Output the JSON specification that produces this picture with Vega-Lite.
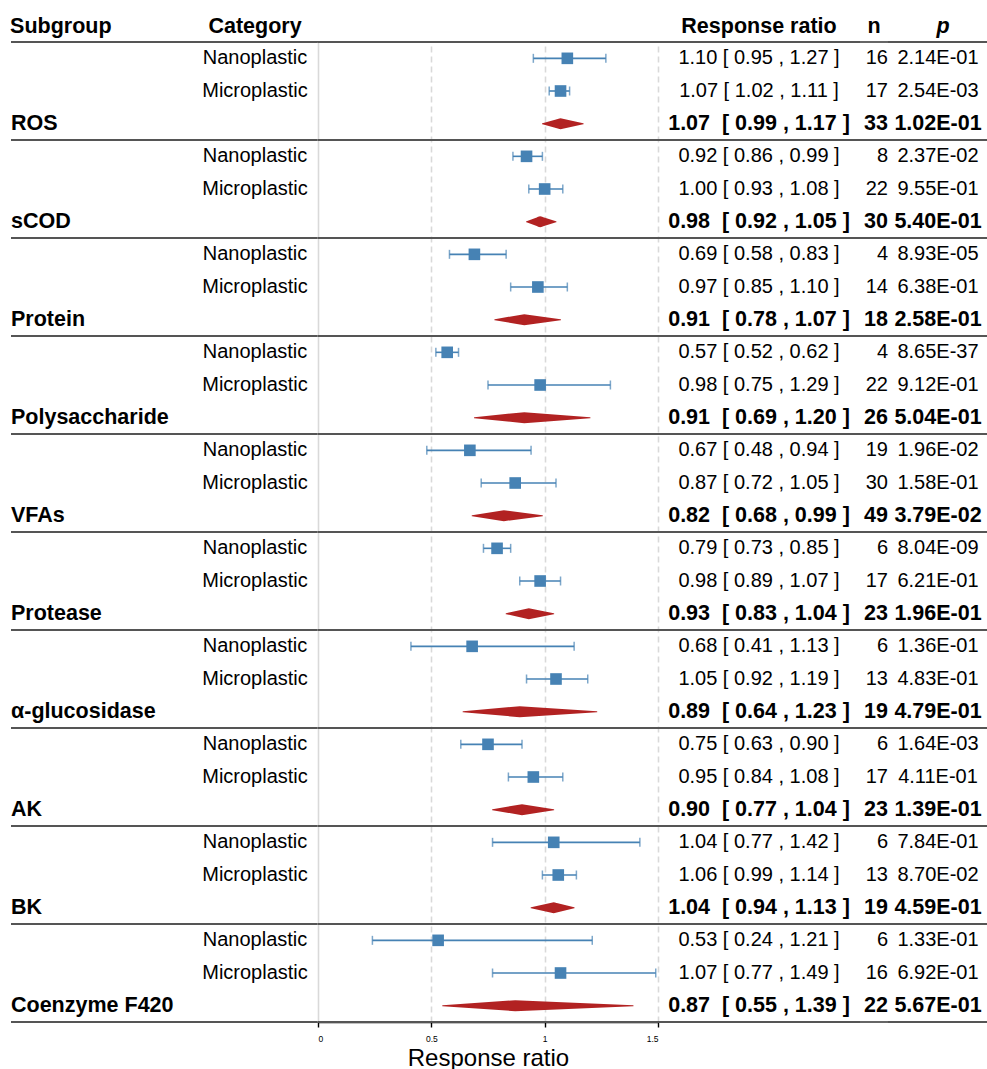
{
  "$schema": "https://vega.github.io/schema/vega-lite/v6.json",
  "padding": {"left": 10, "top": 15, "right": 0, "bottom": 0},
  "spacing": 0,
  "bounds": "flush",
  "resolve": {"scale": {"y": "shared"}},
  "config": {
    "font": "Liberation Sans",
    "view": {"stroke": null},
    "text": {"color": "#000000", "fontSize": 20},
    "title": {"fontSize": 21.5, "fontWeight": "bold", "color": "#000000", "offset": 4, "anchor": "middle"}
  },
  "data": {
    "values": [
      {"group": "ROS", "kind": "study", "category": "Nanoplastic", "est": 1.10, "lo": 0.95, "hi": 1.27, "n": 16, "p": "2.14E-01"},
      {"group": "ROS", "kind": "study", "category": "Microplastic", "est": 1.07, "lo": 1.02, "hi": 1.11, "n": 17, "p": "2.54E-03"},
      {"group": "ROS", "kind": "pooled", "est": 1.07, "lo": 0.99, "hi": 1.17, "n": 33, "p": "1.02E-01"},
      {"group": "sCOD", "kind": "study", "category": "Nanoplastic", "est": 0.92, "lo": 0.86, "hi": 0.99, "n": 8, "p": "2.37E-02"},
      {"group": "sCOD", "kind": "study", "category": "Microplastic", "est": 1.00, "lo": 0.93, "hi": 1.08, "n": 22, "p": "9.55E-01"},
      {"group": "sCOD", "kind": "pooled", "est": 0.98, "lo": 0.92, "hi": 1.05, "n": 30, "p": "5.40E-01"},
      {"group": "Protein", "kind": "study", "category": "Nanoplastic", "est": 0.69, "lo": 0.58, "hi": 0.83, "n": 4, "p": "8.93E-05"},
      {"group": "Protein", "kind": "study", "category": "Microplastic", "est": 0.97, "lo": 0.85, "hi": 1.10, "n": 14, "p": "6.38E-01"},
      {"group": "Protein", "kind": "pooled", "est": 0.91, "lo": 0.78, "hi": 1.07, "n": 18, "p": "2.58E-01"},
      {"group": "Polysaccharide", "kind": "study", "category": "Nanoplastic", "est": 0.57, "lo": 0.52, "hi": 0.62, "n": 4, "p": "8.65E-37"},
      {"group": "Polysaccharide", "kind": "study", "category": "Microplastic", "est": 0.98, "lo": 0.75, "hi": 1.29, "n": 22, "p": "9.12E-01"},
      {"group": "Polysaccharide", "kind": "pooled", "est": 0.91, "lo": 0.69, "hi": 1.20, "n": 26, "p": "5.04E-01"},
      {"group": "VFAs", "kind": "study", "category": "Nanoplastic", "est": 0.67, "lo": 0.48, "hi": 0.94, "n": 19, "p": "1.96E-02"},
      {"group": "VFAs", "kind": "study", "category": "Microplastic", "est": 0.87, "lo": 0.72, "hi": 1.05, "n": 30, "p": "1.58E-01"},
      {"group": "VFAs", "kind": "pooled", "est": 0.82, "lo": 0.68, "hi": 0.99, "n": 49, "p": "3.79E-02"},
      {"group": "Protease", "kind": "study", "category": "Nanoplastic", "est": 0.79, "lo": 0.73, "hi": 0.85, "n": 6, "p": "8.04E-09"},
      {"group": "Protease", "kind": "study", "category": "Microplastic", "est": 0.98, "lo": 0.89, "hi": 1.07, "n": 17, "p": "6.21E-01"},
      {"group": "Protease", "kind": "pooled", "est": 0.93, "lo": 0.83, "hi": 1.04, "n": 23, "p": "1.96E-01"},
      {"group": "α-glucosidase", "kind": "study", "category": "Nanoplastic", "est": 0.68, "lo": 0.41, "hi": 1.13, "n": 6, "p": "1.36E-01"},
      {"group": "α-glucosidase", "kind": "study", "category": "Microplastic", "est": 1.05, "lo": 0.92, "hi": 1.19, "n": 13, "p": "4.83E-01"},
      {"group": "α-glucosidase", "kind": "pooled", "est": 0.89, "lo": 0.64, "hi": 1.23, "n": 19, "p": "4.79E-01"},
      {"group": "AK", "kind": "study", "category": "Nanoplastic", "est": 0.75, "lo": 0.63, "hi": 0.90, "n": 6, "p": "1.64E-03"},
      {"group": "AK", "kind": "study", "category": "Microplastic", "est": 0.95, "lo": 0.84, "hi": 1.08, "n": 17, "p": "4.11E-01"},
      {"group": "AK", "kind": "pooled", "est": 0.90, "lo": 0.77, "hi": 1.04, "n": 23, "p": "1.39E-01"},
      {"group": "BK", "kind": "study", "category": "Nanoplastic", "est": 1.04, "lo": 0.77, "hi": 1.42, "n": 6, "p": "7.84E-01"},
      {"group": "BK", "kind": "study", "category": "Microplastic", "est": 1.06, "lo": 0.99, "hi": 1.14, "n": 13, "p": "8.70E-02"},
      {"group": "BK", "kind": "pooled", "est": 1.04, "lo": 0.94, "hi": 1.13, "n": 19, "p": "4.59E-01"},
      {"group": "Coenzyme F420", "kind": "study", "category": "Nanoplastic", "est": 0.53, "lo": 0.24, "hi": 1.21, "n": 6, "p": "1.33E-01"},
      {"group": "Coenzyme F420", "kind": "study", "category": "Microplastic", "est": 1.07, "lo": 0.77, "hi": 1.49, "n": 16, "p": "6.92E-01"},
      {"group": "Coenzyme F420", "kind": "pooled", "est": 0.87, "lo": 0.55, "hi": 1.39, "n": 22, "p": "5.67E-01"}
    ]
  },
  "transform": [
    {"window": [{"op": "row_number", "as": "row"}]},
    {"calculate": "format(datum.est, '.2f')", "as": "estText"},
    {"calculate": "format(datum.lo, '.2f') + ' , ' + format(datum.hi, '.2f')", "as": "limitsText"},
    {"calculate": "datum.estText + (datum.kind === 'pooled' ? '\u00a0 ' : ' ') + '[ ' + datum.limitsText + ' ' + ']'", "as": "ci"}
  ],
  "hconcat": [
    {
      "width": 181,
      "height": 980,
      "title": {"text": "Subgroup", "anchor": "start"},
      "layer": [
        {"transform": [{"filter": "datum.category === 'Nanoplastic'"}], "mark": {"type": "rule", "color": "#555555", "strokeWidth": 1.8}, "encoding": {"y": {"field": "row", "type": "ordinal", "bandPosition": 0, "axis": null, "scale": {"type": "band", "paddingInner": 0, "paddingOuter": 0}}}},
        {"transform": [{"filter": "datum.kind === 'pooled'"}], "mark": {"type": "rule", "color": "#555555", "strokeWidth": 1.8}, "encoding": {"y": {"field": "row", "type": "ordinal", "bandPosition": 1, "axis": null, "scale": {"type": "band", "paddingInner": 0, "paddingOuter": 0}}}},
        {"transform": [{"filter": "datum.kind === 'pooled'"}], "mark": {"type": "text", "align": "left", "fontWeight": "bold", "fontSize": 21.5}, "encoding": {"x": {"value": 0}, "y": {"field": "row", "type": "ordinal", "axis": null}, "text": {"field": "group"}}}
      ]
    },
    {
      "width": 126,
      "height": 980,
      "title": {"text": "Category"},
      "layer": [
        {"transform": [{"filter": "datum.category === 'Nanoplastic'"}], "mark": {"type": "rule", "color": "#555555", "strokeWidth": 1.8}, "encoding": {"y": {"field": "row", "type": "ordinal", "bandPosition": 0, "axis": null}}},
        {"transform": [{"filter": "datum.kind === 'pooled'"}], "mark": {"type": "rule", "color": "#555555", "strokeWidth": 1.8}, "encoding": {"y": {"field": "row", "type": "ordinal", "bandPosition": 1, "axis": null}}},
        {"transform": [{"filter": "datum.kind === 'study'"}], "mark": {"type": "text", "align": "center"}, "encoding": {"y": {"field": "row", "type": "ordinal", "axis": null}, "text": {"field": "category"}}}
      ]
    },
    {
      "width": 340,
      "height": 980,
      "layer": [
        {
          "transform": [{"filter": "datum.kind === 'study'"}],
          "mark": {"type": "rule", "color": "#4682b4", "strokeWidth": 1.6},
          "encoding": {
            "x": {
              "field": "lo", "type": "quantitative", "title": "Response ratio",
              "scale": {"domain": [0, 1.5], "nice": false, "zero": false},
              "axis": {
                "values": [0, 0.5, 1, 1.5], "format": "~g",
                "grid": true, "gridColor": "#d9d9d9", "gridWidth": 1.6,
                "gridDash": {"condition": {"test": "datum.value === 0", "value": [1, 0]}, "value": [6, 4]},
                "domainColor": "#000000", "domainWidth": 1.6,
                "tickColor": "#000000", "tickWidth": 1.4, "tickSize": 5,
                "labelFontSize": 8.5, "labelColor": "#000000", "labelPadding": 7,
                "titleFontSize": 24, "titleFontWeight": "normal", "titleColor": "#000000", "titlePadding": 4
              }
            },
            "x2": {"field": "hi"},
            "y": {"field": "row", "type": "ordinal", "axis": null}
          }
        },
        {
          "transform": [{"filter": "datum.kind === 'study'"}, {"fold": ["lo", "hi"], "as": ["end", "limit"]}],
          "mark": {"type": "tick", "orient": "vertical", "color": "#4682b4", "size": 9, "thickness": 1.5},
          "encoding": {
            "x": {"field": "limit", "type": "quantitative", "title": "Response ratio"},
            "y": {"field": "row", "type": "ordinal", "axis": null}
          }
        },
        {
          "transform": [{"filter": "datum.kind === 'study'"}],
          "mark": {"type": "point", "shape": "square", "filled": true, "opacity": 1, "color": "#4682b4", "size": 135},
          "encoding": {
            "x": {"field": "est", "type": "quantitative", "title": "Response ratio"},
            "y": {"field": "row", "type": "ordinal", "axis": null}
          }
        },
        {
          "transform": [
            {"filter": "datum.kind === 'pooled'"},
            {"fold": ["lo", "est", "hi"], "as": ["vertex", "value"]},
            {"calculate": "datum.vertex === 'est' ? 1 : 0", "as": "thickness"}
          ],
          "mark": {"type": "trail", "color": "#b22222"},
          "encoding": {
            "x": {"field": "value", "type": "quantitative", "title": "Response ratio"},
            "y": {"field": "row", "type": "ordinal", "axis": null},
            "size": {"field": "thickness", "type": "quantitative", "scale": {"domain": [0, 1], "range": [0, 11]}, "legend": null},
            "detail": {"field": "row"},
            "order": {"field": "value", "type": "quantitative"}
          }
        },
        {"transform": [{"filter": "datum.category === 'Nanoplastic'"}], "mark": {"type": "rule", "color": "#555555", "strokeWidth": 1.8}, "encoding": {"y": {"field": "row", "type": "ordinal", "bandPosition": 0, "axis": null}}},
        {"transform": [{"filter": "datum.kind === 'pooled'"}], "mark": {"type": "rule", "color": "#555555", "strokeWidth": 1.8}, "encoding": {"y": {"field": "row", "type": "ordinal", "bandPosition": 1, "axis": null}}}
      ]
    },
    {
      "width": 202,
      "height": 980,
      "title": {"text": "Response ratio"},
      "layer": [
        {"transform": [{"filter": "datum.category === 'Nanoplastic'"}], "mark": {"type": "rule", "color": "#555555", "strokeWidth": 1.8}, "encoding": {"y": {"field": "row", "type": "ordinal", "bandPosition": 0, "axis": null}}},
        {"transform": [{"filter": "datum.kind === 'pooled'"}], "mark": {"type": "rule", "color": "#555555", "strokeWidth": 1.8}, "encoding": {"y": {"field": "row", "type": "ordinal", "bandPosition": 1, "axis": null}}},
        {"transform": [{"filter": "datum.kind === 'study'"}], "mark": {"type": "text", "align": "center"}, "encoding": {"y": {"field": "row", "type": "ordinal", "axis": null}, "text": {"field": "ci"}}},
        {"transform": [{"filter": "datum.kind === 'pooled'"}], "mark": {"type": "text", "align": "center", "fontWeight": "bold", "fontSize": 21.5}, "encoding": {"y": {"field": "row", "type": "ordinal", "axis": null}, "text": {"field": "ci"}}}
      ]
    },
    {
      "width": 28,
      "height": 980,
      "title": {"text": "n"},
      "layer": [
        {"transform": [{"filter": "datum.category === 'Nanoplastic'"}], "mark": {"type": "rule", "color": "#555555", "strokeWidth": 1.8}, "encoding": {"y": {"field": "row", "type": "ordinal", "bandPosition": 0, "axis": null}}},
        {"transform": [{"filter": "datum.kind === 'pooled'"}], "mark": {"type": "rule", "color": "#555555", "strokeWidth": 1.8}, "encoding": {"y": {"field": "row", "type": "ordinal", "bandPosition": 1, "axis": null}}},
        {"transform": [{"filter": "datum.kind === 'study'"}], "mark": {"type": "text", "align": "right"}, "encoding": {"x": {"value": "width"}, "y": {"field": "row", "type": "ordinal", "axis": null}, "text": {"field": "n"}}},
        {"transform": [{"filter": "datum.kind === 'pooled'"}], "mark": {"type": "text", "align": "right", "fontWeight": "bold", "fontSize": 21.5}, "encoding": {"x": {"value": "width"}, "y": {"field": "row", "type": "ordinal", "axis": null}, "text": {"field": "n"}}}
      ]
    },
    {
      "width": 100,
      "height": 980,
      "title": {"text": "p", "fontStyle": "italic", "dx": 5},
      "layer": [
        {"transform": [{"filter": "datum.category === 'Nanoplastic'"}], "mark": {"type": "rule", "color": "#555555", "strokeWidth": 1.8}, "encoding": {"y": {"field": "row", "type": "ordinal", "bandPosition": 0, "axis": null}}},
        {"transform": [{"filter": "datum.kind === 'pooled'"}], "mark": {"type": "rule", "color": "#555555", "strokeWidth": 1.8}, "encoding": {"y": {"field": "row", "type": "ordinal", "bandPosition": 1, "axis": null}}},
        {"transform": [{"filter": "datum.kind === 'study'"}], "mark": {"type": "text", "align": "center"}, "encoding": {"y": {"field": "row", "type": "ordinal", "axis": null}, "text": {"field": "p"}}},
        {"transform": [{"filter": "datum.kind === 'pooled'"}], "mark": {"type": "text", "align": "center", "fontWeight": "bold", "fontSize": 21.5}, "encoding": {"y": {"field": "row", "type": "ordinal", "axis": null}, "text": {"field": "p"}}}
      ]
    }
  ]
}
